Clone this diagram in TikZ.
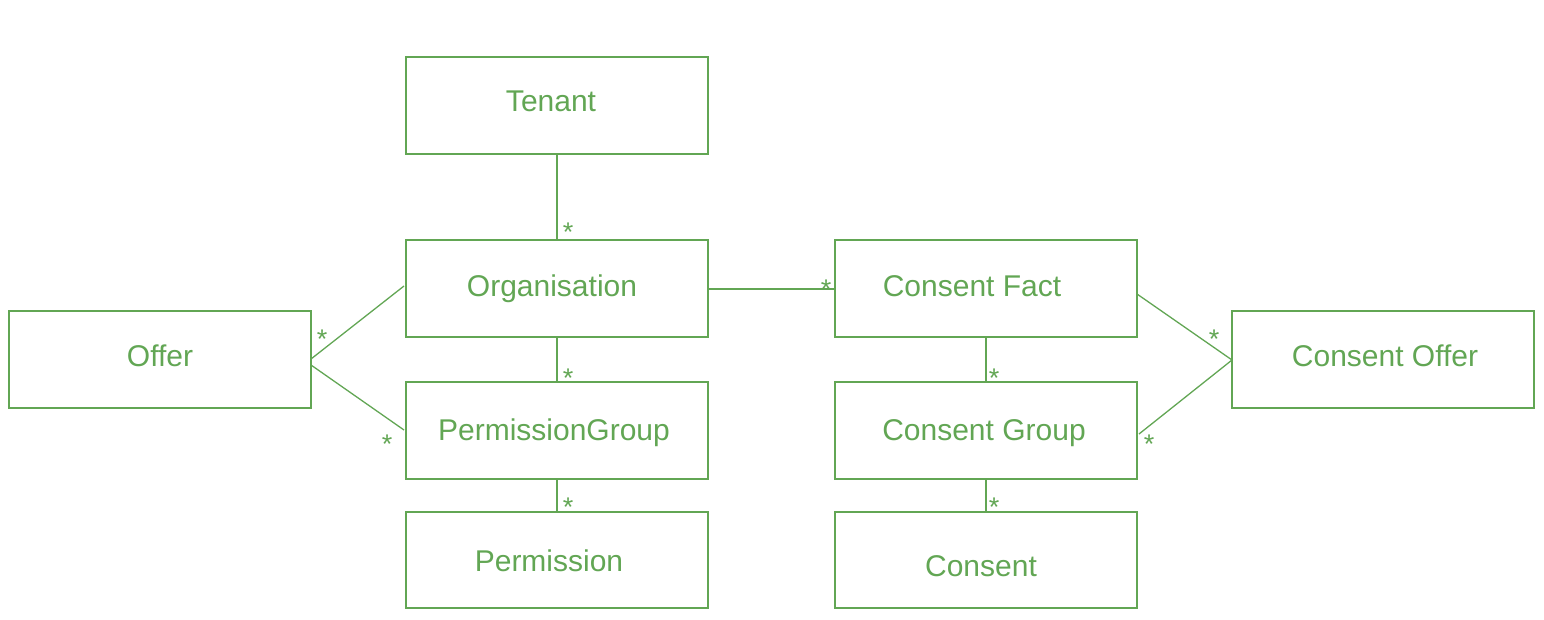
\documentclass[tikz,border=0pt]{standalone}
\usepackage{fontspec}
\setmainfont{Liberation Sans}
\definecolor{grn}{RGB}{98,166,84}
\begin{document}
\begin{tikzpicture}[x=1pt,y=-1pt,
  box/.style={draw=grn,line width=1.2pt},
  lbl/.style={text=grn,font=\fontsize{30}{35}\selectfont,inner sep=0pt,anchor=center},
  mult/.style={text=grn,font=\fontsize{27}{31}\selectfont,inner sep=0pt,anchor=center},
  conn/.style={draw=grn,line width=1.3pt}]
\useasboundingbox (0,0) rectangle (1544,619);
% boxes
\draw[box] (406,57) rectangle (708,154);
\draw[box] (406,240) rectangle (708,337);
\draw[box] (406,382) rectangle (708,479);
\draw[box] (406,512) rectangle (708,608);
\draw[box] (9,311) rectangle (311,408);
\draw[box] (835,240) rectangle (1137,337);
\draw[box] (835,382) rectangle (1137,479);
\draw[box] (835,512) rectangle (1137,608);
\draw[box] (1232,311) rectangle (1534,408);
% labels
\node[lbl] (tenant) at (551,101) {Tenant};
\node[lbl] (org) at (552,289) {Organisation};
\node[lbl] (pg) at (554,433) {PermissionGroup};
\node[lbl] (perm) at (549,561) {Permission};
\node[lbl] (offer) at (160,356) {Offer};
\node[lbl] (cf) at (972,286) {Consent Fact};
\node[lbl] (cg) at (984,433) {Consent Group};
\node[lbl] (cons) at (981,566) {Consent};
\node[lbl] (co) at (1385,356) {Consent Offer};
% connector endpoints
\coordinate (tB) at (557,154);
\coordinate (oT) at (557,240);
\coordinate (oR) at (708,289);
\coordinate (cfL) at (835,289);
\coordinate (oB) at (557,337);
\coordinate (pgT) at (557,382);
\coordinate (pgB) at (557,479);
\coordinate (pT) at (557,512);
\coordinate (ofA) at (311,359);
\coordinate (oL) at (404,286);
\coordinate (ofB) at (311,365);
\coordinate (pgL) at (404,430);
\coordinate (cfB) at (986,337);
\coordinate (cgT) at (986,382);
\coordinate (cgB) at (986,479);
\coordinate (cT) at (986,512);
\coordinate (cfR) at (1137,294);
\coordinate (coL) at (1232,360);
\coordinate (cgR) at (1139,434);
% connectors
\draw[conn] (tB) -- (oT);
\draw[conn] (oR) -- (cfL);
\draw[conn] (oB) -- (pgT);
\draw[conn] (pgB) -- (pT);
\draw[conn] (ofA) -- (oL);
\draw[conn] (ofB) -- (pgL);
\draw[conn] (cfB) -- (cgT);
\draw[conn] (cgB) -- (cT);
\draw[conn] (cfR) -- (coL);
\draw[conn] (cgR) -- (coL);
% multiplicities
\node[mult] (m1) at (568,232) {*};
\node[mult] (m2) at (826,289) {*};
\node[mult] (m3) at (568,378) {*};
\node[mult] (m4) at (568,507) {*};
\node[mult] (m5) at (322,339) {*};
\node[mult] (m6) at (387,444) {*};
\node[mult] (m7) at (994,378) {*};
\node[mult] (m8) at (994,507) {*};
\node[mult] (m9) at (1214,339) {*};
\node[mult] (m10) at (1149,444) {*};
\end{tikzpicture}
\end{document}
